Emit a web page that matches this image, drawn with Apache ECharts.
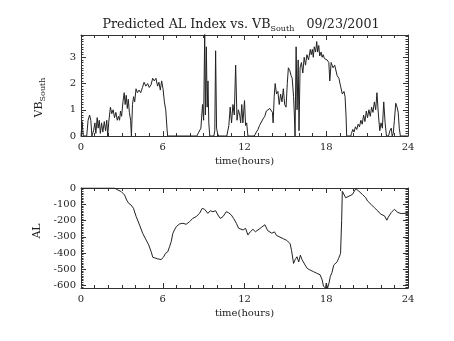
<!DOCTYPE html>
<html>
<head>
<meta charset="utf-8">
<script src="https://cdn.jsdelivr.net/npm/echarts@6/dist/echarts.min.js"></script>
<style>
  html, body { margin: 0; padding: 0; background: #fff; }
  #chart { width: 454px; height: 341px; }
</style>
</head>
<body>
<div id="chart"></div>
<script>
// Solar wind southward field (VB south) and predicted AL index, 09/23/2001
const hourTicks = [0, 6, 12, 18, 24];

const vbHours = [
  0.00, 0.08, 0.17, 0.42, 0.52, 0.63, 0.72, 0.80, 0.92, 1.02, 1.09, 1.19, 1.26, 1.34, 1.42, 1.51,
  1.60, 1.71, 1.80, 1.89, 1.96, 2.03, 2.16, 2.26, 2.36, 2.46, 2.56, 2.66, 2.75, 2.83, 2.90, 2.98,
  3.08, 3.17, 3.24, 3.32, 3.40, 3.47, 3.55, 3.64, 3.70, 3.78, 3.86, 3.94, 4.04, 4.14, 4.26, 4.38,
  4.51, 4.63, 4.76, 4.89, 5.01, 5.14, 5.26, 5.38, 5.50, 5.62, 5.72, 5.82, 5.92, 6.02, 6.12, 6.22,
  6.31, 6.36, 8.50, 8.65, 8.80, 8.92, 9.00, 9.08, 9.13, 9.20, 9.26, 9.32, 9.38, 9.45, 9.75, 9.82,
  9.88, 9.95, 10.02, 10.10, 10.55, 10.62, 10.70, 10.85, 10.95, 11.05, 11.15, 11.25, 11.35, 11.45, 11.55, 11.65,
  11.72, 11.80, 11.88, 12.00, 12.08, 12.16, 12.25, 12.50, 12.60, 12.72, 12.87, 12.99, 13.10, 13.24, 13.36, 13.49,
  13.60, 13.73, 13.86, 13.98, 14.05, 14.10, 14.18, 14.25, 14.35, 14.45, 14.55, 14.65, 14.75, 14.85, 14.95, 15.05,
  15.14, 15.22, 15.32, 15.42, 15.50, 15.60, 15.66, 15.71, 15.79, 15.86, 15.94, 16.00, 16.08, 16.18, 16.28, 16.38,
  16.48, 16.58, 16.70, 16.83, 16.90, 16.98, 17.05, 17.12, 17.22, 17.30, 17.37, 17.45, 17.52, 17.62, 17.70, 17.77,
  17.87, 17.97, 18.06, 18.19, 18.26, 18.36, 18.50, 18.62, 18.80, 18.93, 19.05, 19.18, 19.30, 19.38, 19.45, 19.50,
  19.80, 19.85, 19.95, 20.04, 20.14, 20.24, 20.34, 20.44, 20.54, 20.64, 20.74, 20.84, 20.94, 21.03, 21.13, 21.23,
  21.33, 21.43, 21.53, 21.63, 21.72, 21.83, 21.93, 22.02, 22.12, 22.22, 22.32, 22.42, 22.57, 22.67, 22.77, 22.84,
  22.92, 23.00, 23.10, 23.20, 23.28, 23.36, 23.44, 24.00
];
const vbSouth = [
  0, 0.55, 0, 0, 0.6, 0.8, 0.6, 0, 0.2, 0.5, 0.1, 0.7, 0.3, 0.6, 0.1, 0.5,
  0.15, 0.55, 0.2, 0.6, 0, 0.5, 1.1, 0.85, 1.0, 0.7, 0.9, 0.6, 0.75, 0.6, 0.95, 0.75,
  1.3, 1.65, 1.2, 1.55, 1.05, 1.4, 0.9, 0.6, 0, 1.2, 1.5, 1.3, 1.8, 1.65, 1.75, 1.65,
  1.85, 2.05, 1.9, 2.0, 1.85, 1.95, 2.2, 2.1, 2.2, 1.9, 2.05, 1.75, 2.1, 1.8, 1.3, 1.0,
  0.3, 0, 0, 0.15, 0.3, 1.2, 0.6, 3.9, 0.8, 3.4, 1.1, 2.1, 0.5, 0, 0, 0.2,
  3.25, 0.3, 0.1, 0, 0, 0.05, 0, 0.4, 1.1, 0.5, 1.2, 0.8, 2.7, 0.6, 1.0, 0.8,
  0.5, 1.2, 0.5, 1.35, 0.4, 0.5, 0, 0, 0.05, 0, 0.15, 0.25, 0.4, 0.45, 0.65, 0.75,
  0.95, 1.0, 1.05, 1.0, 0.9, 0.5, 1.5, 2.0, 1.6, 1.7, 1.2, 1.6, 1.3, 1.8, 1.2, 1.1,
  2.0, 2.6, 2.5, 2.3, 2.2, 1.5, 0.8, 0, 3.4, 1.0, 2.9, 0.2, 2.6, 2.8, 2.4, 3.0,
  2.7, 3.1, 2.9, 3.3, 3.1, 3.3, 3.0, 3.4, 3.2, 3.6, 3.2, 3.45, 3.05, 3.2, 3.0, 3.1,
  2.95, 3.0, 2.9, 2.8, 2.1, 2.8, 2.6, 2.7, 2.3, 2.2, 1.9, 1.6, 1.7, 1.5, 0.8, 0,
  0, 0.1, 0.25, 0.15, 0.35, 0.25, 0.45, 0.35, 0.6, 0.45, 0.8, 0.55, 0.95, 0.7, 1.0, 0.75,
  1.1, 0.9, 1.3, 1.0, 1.65, 0.8, 0.2, 0.5, 0.3, 1.3, 0.5, 0, 0, 0.2, 0.3, 0,
  0.1, 0.6, 1.25, 1.1, 0.9, 0.3, 0, 0
];

const alHours = [
  0, 2.45, 2.7, 2.95, 3.2, 3.35, 3.5, 3.68, 3.85, 4.05, 4.17, 4.3, 4.53, 4.78, 4.97, 5.15,
  5.27, 5.4, 5.64, 5.88, 6.05, 6.2, 6.37, 6.5, 6.62, 6.74, 6.86, 6.99, 7.23, 7.48, 7.72, 7.97,
  8.2, 8.45, 8.7, 8.9, 9.07, 9.31, 9.49, 9.68, 9.88, 10.05, 10.22, 10.42, 10.66, 10.83, 11.03, 11.2,
  11.4, 11.57, 11.7, 11.9, 12.08, 12.25, 12.43, 12.62, 12.8, 12.99, 13.24, 13.5, 13.7, 14.0, 14.2, 14.35,
  14.6, 14.85, 15.1, 15.35, 15.45, 15.6, 15.72, 15.85, 15.98, 16.1, 16.22, 16.35, 16.45, 16.6, 16.8, 17.05,
  17.3, 17.55, 17.7, 17.8, 17.95, 18.0, 18.1, 18.2, 18.3, 18.42, 18.55, 18.68, 18.8, 18.9, 19.05, 19.13,
  19.18, 19.3, 19.43, 19.55, 19.67, 19.8, 19.92, 20.05, 20.17, 20.28, 20.4, 20.53, 20.66, 20.9, 21.03, 21.28,
  21.53, 21.78, 22.0, 22.27, 22.45, 22.55, 22.77, 23.0, 23.26, 23.5, 24.0
];
const alIndex = [
  0, 0, -12, -22, -43, -74, -94, -105, -125, -176, -187, -228, -279, -320, -350, -392,
  -426, -436, -436, -440, -426, -402, -392, -361, -330, -279, -258, -238, -221, -217, -223, -207,
  -187, -176, -156, -125, -131, -156, -140, -146, -140, -166, -187, -176, -146, -152, -166, -187,
  -217, -248, -238, -258, -248, -289, -269, -254, -269, -258, -242, -226, -262, -278, -270, -292,
  -302, -312, -322, -343, -383, -464, -440, -423, -455, -413, -440, -430, -474, -494, -504, -514,
  -524, -534, -565, -605, -615, -585, -615, -585, -544, -520, -474, -470, -454, -434, -403, -200,
  -20, -16, -60, -70, -50, -55, -40, -30, -4, -10, -20, -30, -40, -60, -80, -100,
  -121, -141, -161, -171, -198, -180, -151, -131, -151, -157, -155
];

const FONT = 'DejaVu Serif';
const INK = '#222';
const AXIS = '#333';

const pairs = (xs, ys) => xs.map((x, i) => [x, ys[i]]);

function xAxisFor(gridIndex, top) {
  return {
    type: 'value', gridIndex, position: top ? 'top' : 'bottom',
    min: hourTicks[0], max: hourTicks[hourTicks.length - 1], interval: 6,
    axisLine: { show: true, onZero: false, lineStyle: { color: AXIS, width: 1 } },
    axisTick: { show: true, inside: true, length: 5, lineStyle: { color: AXIS } },
    minorTick: { show: true, splitNumber: 6, length: 3, lineStyle: { color: AXIS } },
    splitLine: { show: false },
    axisLabel: top ? { show: false } : { show: true, margin: 6, fontFamily: FONT, fontSize: 10, color: INK },
    name: top ? '' : 'time(hours)',
    nameLocation: 'middle', nameGap: 20,
    nameTextStyle: { fontFamily: FONT, fontSize: 10, color: INK }
  };
}

function yAxisFor(gridIndex, right, extra) {
  return Object.assign({
    type: 'value', gridIndex, position: right ? 'right' : 'left',
    axisLine: { show: true, onZero: false, lineStyle: { color: AXIS, width: 1 } },
    axisTick: { show: true, inside: true, length: 5, lineStyle: { color: AXIS } },
    minorTick: { show: true, splitNumber: 10, length: 2.5, lineStyle: { color: AXIS } },
    splitLine: { show: false },
    axisLabel: right ? { show: false } : {
      show: true, margin: 5, fontFamily: FONT, fontSize: 10, color: INK,
      padding: [0, 0, 4, 0],
      showMinLabel: gridIndex === 0, showMaxLabel: gridIndex === 1
    }
  }, extra);
}

const vbRange = { min: 0, max: 3.85, interval: 1 };
const alRange = { min: -615, max: 0, splitNumber: 6 };

const chart = echarts.init(document.getElementById('chart'), null, { renderer: 'canvas' });
chart.setOption({
  animation: false,
  backgroundColor: '#fff',
  grid: [
    { left: 81, top: 35, width: 327, height: 101 },
    { left: 81, top: 188, width: 327, height: 100 }
  ],
  graphic: [{
    type: 'text', x: 241, y: 25,
    style: {
      text: '{a|Predicted AL Index vs. VB}{s|South}{a|   09/23/2001}',
      align: 'center', verticalAlign: 'middle',
      rich: {
        a: { fontFamily: FONT, fontSize: 12.7, fill: INK },
        s: { fontFamily: FONT, fontSize: 8, fill: INK, padding: [8, 0, 0, 0] }
      }
    }
  }],
  xAxis: [xAxisFor(0, false), xAxisFor(0, true), xAxisFor(1, false), xAxisFor(1, true)],
  yAxis: [
    yAxisFor(0, false, Object.assign({
      name: '{a|VB}{s|South}', nameLocation: 'middle', nameRotate: 90, nameGap: 34,
      nameTextStyle: {
        padding: [0, 24, 0, 0],
        rich: {
          a: { fontFamily: FONT, fontSize: 11, color: INK },
          s: { fontFamily: FONT, fontSize: 8, color: INK, padding: [7, 0, 0, 0] }
        }
      }
    }, vbRange)),
    yAxisFor(0, true, vbRange),
    yAxisFor(1, false, Object.assign({
      name: 'AL', nameLocation: 'middle', nameRotate: 90, nameGap: 38,
      nameTextStyle: { fontFamily: FONT, fontSize: 11, color: INK, padding: [0, 0, 0, 14] }
    }, alRange)),
    yAxisFor(1, true, alRange)
  ],
  series: [
    {
      name: 'VB South', type: 'line', xAxisIndex: 0, yAxisIndex: 0,
      data: pairs(vbHours, vbSouth), showSymbol: false, clip: true,
      lineStyle: { color: INK, width: 1 }
    },
    {
      name: 'AL', type: 'line', xAxisIndex: 2, yAxisIndex: 2,
      data: pairs(alHours, alIndex), showSymbol: false, clip: true,
      lineStyle: { color: INK, width: 1 }
    }
  ]
});
</script>
</body>
</html>
